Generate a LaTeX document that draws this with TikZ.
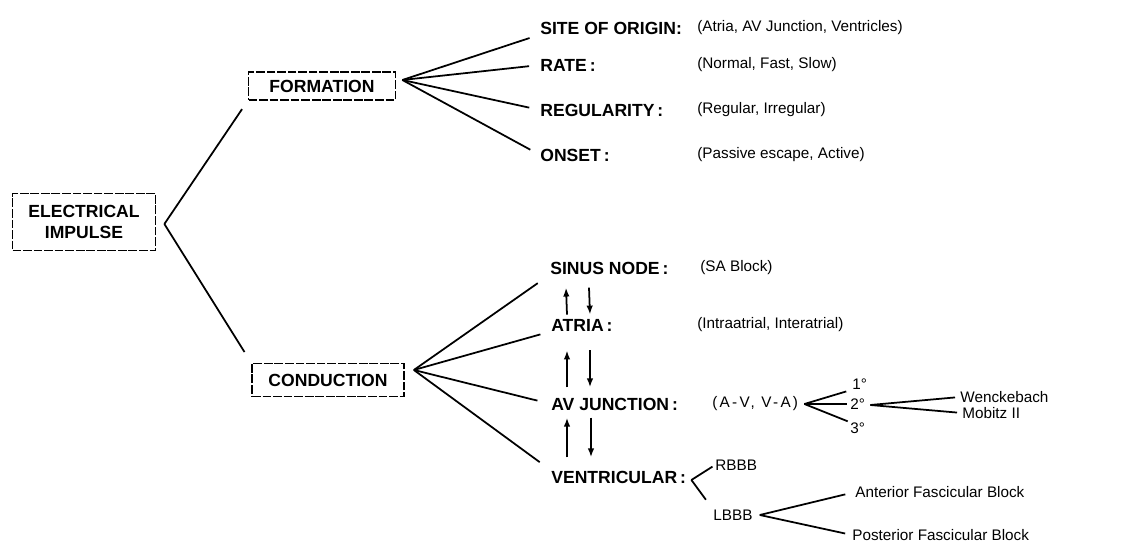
\documentclass[tikz,border=0pt]{standalone}
\usepackage{fontspec}
\setmainfont{Liberation Sans}
\usetikzlibrary{calc,arrows.meta}

\tikzset{
	blockbox/.style={draw, line width=1pt, dash pattern=on 5pt off 1pt, inner sep=2pt, font=\bfseries\fontsize{10}{12}\selectfont, align=center},
	caplabel/.style={anchor=west, inner sep=0pt, font=\bfseries\fontsize{10}{12}\selectfont},
	desclabel/.style={anchor=west, inner sep=0pt, font=\fontsize{8.7}{10}\selectfont},
	branch/.style={line width=1pt},
	flow/.style={line width=1pt, -{Latex[length=1.8mm, width=1.3mm]}}
}

\begin{document}
\begin{tikzpicture}[x=0.02cm, y=-0.02cm]
	\useasboundingbox (0,0) rectangle (1122,546);
	% boxes
	\node[blockbox, minimum width=2.86cm, minimum height=1.14cm] (elec) at (84,222) {ELECTRICAL\\IMPULSE};
	\node[blockbox, minimum width=2.94cm, minimum height=0.56cm] (form) at (322,86) {FORMATION};
	\node[blockbox, minimum width=3.04cm, minimum height=0.66cm] (cond) at (328,380) {CONDUCTION};
	% formation labels
	\node[caplabel] (site) at (540,28) {SITE OF ORIGIN:};
	\node[desclabel] (siteD) at (697,28) {(Atria, AV Junction, Ventricles)};
	\node[caplabel] (rate) at (540,65) {RATE\,:};
	\node[desclabel] (rateD) at (697,65) {(Normal, Fast, Slow)};
	\node[caplabel] (reg) at (540,110) {REGULARITY\,:};
	\node[desclabel] (regD) at (697,110) {(Regular, Irregular)};
	\node[caplabel] (onset) at (540,155) {ONSET\,:};
	\node[desclabel] (onsetD) at (697,155) {(Passive escape, Active)};
	% conduction labels
	\node[caplabel] (sinus) at (550,268) {SINUS NODE\,:};
	\node[desclabel] (sinusD) at (700,268) {(SA Block)};
	\node[caplabel] (atria) at (551,325) {ATRIA\,:};
	\node[desclabel] (atriaD) at (697,325) {(Intraatrial, Interatrial)};
	\node[caplabel] (avj) at (551,404) {AV JUNCTION\,:};
	\node[desclabel] (avjD) at (712,404) {\addfontfeature{LetterSpace=15}(A-V, V-A)};
	\node[caplabel] (vent) at (551,477) {VENTRICULAR\,:};
	\node[desclabel] (deg1) at (852,384) {1°};
	\node[desclabel] (deg2) at (850,404) {2°};
	\node[desclabel] (deg3) at (850,428) {3°};
	\node[desclabel] (wenck) at (960,397) {Wenckebach};
	\node[desclabel] (mobitz) at (962,413) {Mobitz II};
	\node[desclabel] (rbbb) at (715,465) {RBBB};
	\node[desclabel] (lbbb) at (713,515) {LBBB};
	\node[desclabel] (ant) at (855,492) {Anterior Fascicular Block};
	\node[desclabel] (post) at (852,535) {Posterior Fascicular Block};
	% branch points
	\coordinate (eapex) at ($(elec.east)+(8,2)$);
	\coordinate (fapex) at ($(form.east)+(6,-6)$);
	\coordinate (capex) at ($(cond.east)+(9,-10)$);
	\coordinate (avapex) at ($(avjD.east)+(6,0)$);
	\coordinate (dapex) at ($(deg2.east)+(5,1)$);
	\coordinate (vapex) at ($(vent.east)+(5,3)$);
	\coordinate (lapex) at ($(lbbb.east)+(7,0)$);
	% tree lines
	\draw[branch, shorten >=0.2cm] (eapex) -- (form.south west);
	\draw[branch, shorten >=0.25cm] (eapex) -- (cond.north west);
	\draw[branch, shorten >=0.22cm] (fapex) -- (site.south west);
	\draw[branch, shorten >=0.22cm] (fapex) -- (rate.west);
	\draw[branch, shorten >=0.22cm] (fapex) -- (reg.west);
	\draw[branch, shorten >=0.22cm] (fapex) -- (onset.west);
	\draw[branch, shorten >=0.3cm] (capex) -- (sinus.south west);
	\draw[branch, shorten >=0.22cm] (capex) -- (atria.south west);
	\draw[branch, shorten >=0.28cm] (capex) -- (avj.west);
	\draw[branch, shorten >=0.28cm] (capex) -- (vent.north west);
	\draw[branch, shorten >=0.12cm] (avapex) -- (deg1.south west);
	\draw[branch, shorten >=0.06cm] (avapex) -- (deg2.west);
	\draw[branch, shorten >=0.05cm] (avapex) -- (deg3.north west);
	\draw[branch, shorten >=0.1cm] (dapex) -- (wenck.west);
	\draw[branch, shorten >=0.1cm] (dapex) -- (mobitz.west);
	\draw[branch, shorten >=0.06cm] (vapex) -- (rbbb.west);
	\draw[branch, shorten >=0.24cm] (vapex) -- (lbbb.north west);
	\draw[branch, shorten >=0.2cm] (lapex) -- (ant.west);
	\draw[branch, shorten >=0.14cm] (lapex) -- (post.west);
	% two-way arrows
	\draw[flow] ($(atria.north west)+(16,-4)$) -- ($(sinus.south west)+(16,13)$);
	\draw[flow] ($(sinus.south west)+(39,13)$) -- ($(atria.north west)+(39,-4)$);
	\draw[flow] ($(avj.north west)+(16,-10)$) -- ($(atria.south west)+(16,19)$);
	\draw[flow] ($(atria.south west)+(39,19)$) -- ($(avj.north west)+(39,-10)$);
	\draw[flow] ($(vent.north west)+(16,-13)$) -- ($(avj.south west)+(16,7)$);
	\draw[flow] ($(avj.south west)+(40,7)$) -- ($(vent.north west)+(40,-13)$);
\end{tikzpicture}
\end{document}
